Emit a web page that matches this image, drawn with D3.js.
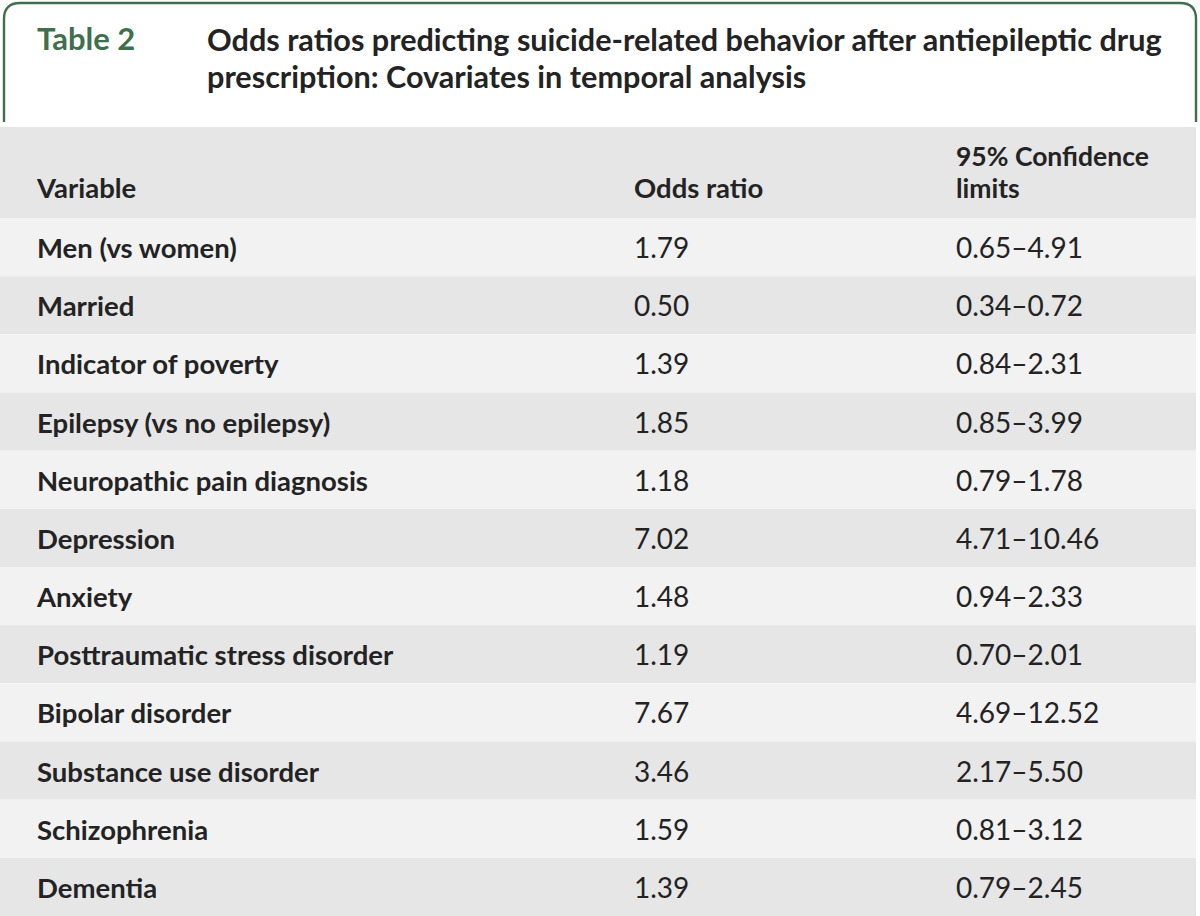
<!DOCTYPE html>
<html><head><meta charset="utf-8">
<script src="https://cdn.jsdelivr.net/npm/d3@7"></script>
<style>body{margin:0;background:#fff;}svg{display:block;}</style>
</head><body>
<svg id="chart" width="1200" height="916"></svg>
<script>
const tableLabel = "Table 2";
const titleLines = ["Odds ratios predicting suicide-related behavior after antiepileptic drug",
                    "prescription: Covariates in temporal analysis"];
const columnHeaders = [["Variable"], ["Odds ratio"], ["95% Confidence", "limits"]];
const variables = ["Men (vs women)", "Married", "Indicator of poverty", "Epilepsy (vs no epilepsy)",
  "Neuropathic pain diagnosis", "Depression", "Anxiety", "Posttraumatic stress disorder",
  "Bipolar disorder", "Substance use disorder", "Schizophrenia", "Dementia"];
const oddsRatios = ["1.79", "0.50", "1.39", "1.85", "1.18", "7.02", "1.48", "1.19", "7.67", "3.46", "1.59", "1.39"];
const ciLower = ["0.65", "0.34", "0.84", "0.85", "0.79", "4.71", "0.94", "0.70", "4.69", "2.17", "0.81", "0.79"];
const ciUpper = ["4.91", "0.72", "2.31", "3.99", "1.78", "10.46", "2.33", "2.01", "12.52", "5.50", "3.12", "2.45"];

const svg = d3.select("#chart");
const W = 1200, H = 916;
const font = "Lato, 'Open Sans', sans-serif";
const green = "#3f6f4c", ink = "#232323";

// title box with rounded top corners
const bx0 = 4, bx1 = 1196, by0 = 3, by1 = 122, r = 16;
svg.append("path")
  .attr("d", `M${bx0},${by1} L${bx0},${by0 + r} Q${bx0},${by0} ${bx0 + r},${by0} L${bx1 - r},${by0} Q${bx1},${by0} ${bx1},${by0 + r} L${bx1},${by1}`)
  .attr("fill", "none").attr("stroke", green).attr("stroke-width", 2.4);

svg.append("text").attr("x", 37).attr("y", 50).attr("font-family", font).attr("font-weight", 700)
  .attr("font-size", 31).attr("fill", green).text(tableLabel);
const title = svg.append("text").attr("font-family", font).attr("font-weight", 700)
  .attr("font-size", 30.6).attr("fill", ink);
title.selectAll("tspan").data(titleLines).join("tspan")
  .attr("x", 207).attr("y", (d, i) => 51 + i * 37).text(d => d);

// table
const headerTop = 127, headerBottom = 218;
svg.append("rect").attr("x", 0).attr("y", headerTop).attr("width", 1196).attr("height", headerBottom - headerTop).attr("fill", "#e6e6e6");

const y = d3.scaleBand().domain(d3.range(variables.length)).range([headerBottom, H]);
const colX = [37, 634, 956];

const rows = svg.selectAll("g.row").data(variables.map((v, i) => ({v, or: oddsRatios[i], ci: ciLower[i] + "\u2013" + ciUpper[i], i})))
  .join("g").attr("class", "row").attr("transform", d => `translate(0,${y(d.i)})`);
rows.append("rect").attr("x", 0).attr("width", 1196).attr("height", y.bandwidth())
  .attr("fill", d => d.i % 2 === 0 ? "#f2f2f2" : "#e6e6e6");
const base = 40;
rows.append("text").attr("x", colX[0]).attr("y", base).attr("font-family", font).attr("font-weight", 700)
  .attr("font-size", 27.5).attr("fill", ink).text(d => d.v);
rows.append("text").attr("x", colX[1]).attr("y", base).attr("font-family", font)
  .attr("font-size", 28).attr("fill", ink).text(d => d.or);
rows.append("text").attr("x", colX[2]).attr("y", base).attr("font-family", font)
  .attr("font-size", 28).attr("fill", ink).text(d => d.ci);

columnHeaders.forEach((lines, c) => {
  lines.forEach((t, k) => {
    svg.append("text").attr("x", colX[c]).attr("y", 198 - (lines.length - 1 - k) * 32)
      .attr("font-family", font).attr("font-weight", 700)
      .attr("font-size", c === 2 ? 26.5 : 27.5).attr("fill", ink).text(t);
  });
});
</script>
</body></html>
